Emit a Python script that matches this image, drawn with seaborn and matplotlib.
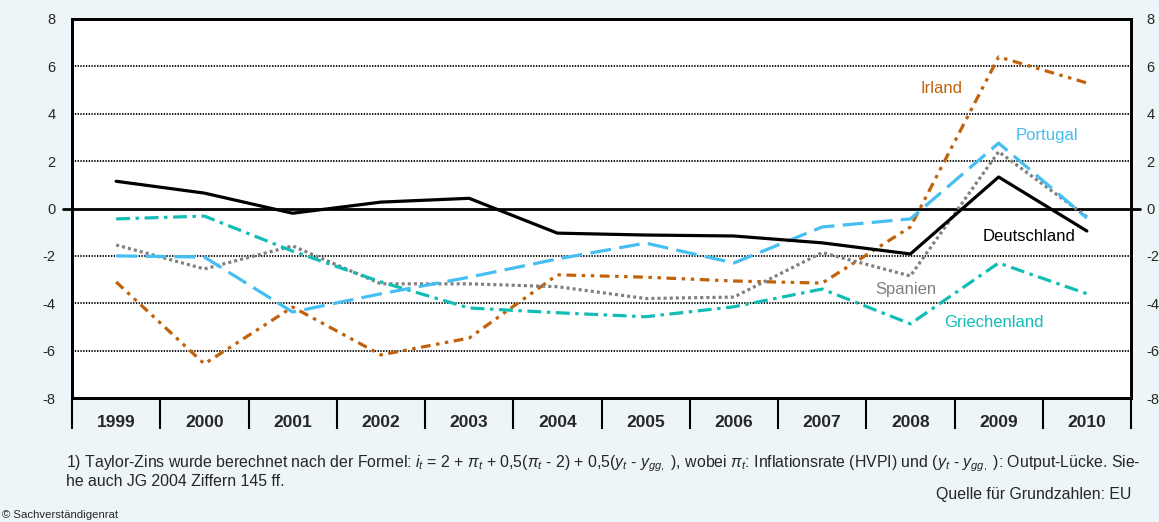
import matplotlib
matplotlib.use("Agg")
import matplotlib.pyplot as plt
import seaborn as sns
import numpy as np
import pandas as pd

years = ["1999", "2000", "2001", "2002", "2003", "2004", "2005", "2006", "2007", "2008", "2009", "2010"]
deutschland = [1.15, 0.65, -0.2, 0.27, 0.43, -1.04, -1.12, -1.16, -1.45, -1.92, 1.33, -0.95]
portugal = [-2.0, -2.05, -4.37, -3.6, -2.9, -2.13, -1.46, -2.3, -0.78, -0.44, 2.76, -0.4]
irland = [-3.1, -6.56, -4.16, -6.18, -5.47, -2.8, -2.9, -3.06, -3.15, -0.78, 6.4, 5.3]
spanien = [-1.54, -2.55, -1.58, -3.18, -3.18, -3.3, -3.8, -3.74, -1.86, -2.85, 2.4, -0.35]
griechenland = [-0.44, -0.32, -1.8, -3.1, -4.2, -4.4, -4.57, -4.15, -3.4, -4.87, -2.3, -3.6]
yticks = [-8, -6, -4, -2, 0, 2, 4, 6, 8]

sns.set_theme(style="white")
plt.rcParams['font.family'] = ['Liberation Sans', 'DejaVu Sans']
plt.rcParams['mathtext.fontset'] = 'custom'
plt.rcParams['mathtext.rm'] = 'Liberation Sans'
plt.rcParams['mathtext.it'] = 'Liberation Sans:italic'
plt.rcParams['lines.scale_dashes'] = False

BG = "#EDF5F9"
fig = plt.figure(figsize=(11.59, 5.22), dpi=100, facecolor=BG)
ax = fig.add_axes([72 / 1159, 1 - 398 / 522, (1131 - 72) / 1159, (398 - 19) / 522])
ax.set_facecolor("white")

x = np.arange(len(years))
series = [
    ("Irland", irland, "#C0620A", (0, (7, 4, 2.5, 4, 2.5, 4))),
    ("Spanien", spanien, "#808080", (0, (2.2, 2.2))),
    ("Griechenland", griechenland, "#12BDB5", (0, (10, 4, 2.5, 4))),
    ("Portugal", portugal, "#45BEF2", (0, (15, 6))),
    ("Deutschland", deutschland, "#000000", "-"),
]
for name, vals, col, ls in series:
    df = pd.DataFrame({"x": x, "y": vals})
    sns.lineplot(data=df, x="x", y="y", ax=ax, color=col, linestyle=ls, linewidth=2.3)

# grid lines
for yv in [-6, -4, -2, 2, 4, 6]:
    ax.axhline(yv, color="black", linestyle=(0, (1.0, 1.0)), linewidth=1.3, zorder=0.5)
ax.axhline(0, color="black", linewidth=2.0, zorder=1.5)
ax.plot([-0.6, -0.5], [0, 0], color="black", linewidth=2.0, clip_on=False)
ax.plot([11.5, 11.6], [0, 0], color="black", linewidth=2.0, clip_on=False)

ax.set_xlim(-0.5, 11.5)
ax.set_ylim(-8, 8)
ax.set_xlabel("")
ax.set_ylabel("")

ax.set_xticks(x)
ax.set_xticklabels(years, fontsize=12.5, fontweight="bold")
ax.set_xticks(np.arange(-0.5, 12, 1), minor=True)
ax.tick_params(axis="x", which="major", length=0, pad=12)
ax.tick_params(axis="x", which="minor", length=22, width=1.5, color="black", direction="out", bottom=True)

ax.set_yticks(yticks)
ax.set_yticklabels([str(v) for v in yticks], fontsize=10.5)
ax.tick_params(axis="y", which="both", length=0, pad=12, left=True, right=False, labelright=False)
ax2 = ax.twinx()
ax2.set_ylim(-8, 8)
ax2.set_yticks(yticks)
ax2.set_yticklabels([str(v) for v in yticks], fontsize=10.5)
ax2.tick_params(axis="y", length=0, pad=11)
ax2.grid(False)
ax.grid(False)

for a in (ax, ax2):
    for s in a.spines.values():
        s.set_color("black")
        s.set_linewidth(2.0)

# labels
ax.text(9.35, 5.05, "Irland", color="#C0620A", fontsize=12, ha="center", va="center")
ax.text(10.55, 3.07, "Portugal", color="#45BEF2", fontsize=12, ha="center", va="center")
ax.text(10.35, -1.2, "Deutschland", color="black", fontsize=12, ha="center", va="center")
ax.text(8.95, -3.4, "Spanien", color="#808080", fontsize=12, ha="center", va="center")
ax.text(9.95, -4.83, "Griechenland", color="#12BDB5", fontsize=12, ha="center", va="center")

foot1 = (r"1) Taylor-Zins wurde berechnet nach der Formel: $i_t$ = 2 + $\pi_t$ + 0,5($\pi_t$ - 2) + "
         r"0,5($y_t$ - $y_{gg,}$ ), wobei $\pi_t$: Inflationsrate (HVPI) und ($y_t$ - $y_{gg,}$ ): Output-Lücke. Sie-")
fig.text(66 / 1159, 1 - 464 / 522, foot1, fontsize=11.4, ha="left", va="center")
fig.text(66 / 1159, 1 - 481 / 522, "he auch JG 2004 Ziffern 145 ff.", fontsize=11.4, ha="left", va="center")
fig.text(1131 / 1159, 1 - 494 / 522, "Quelle für Grundzahlen: EU", fontsize=11.4, ha="right", va="center")
fig.text(2 / 1159, 1 - 515 / 522, "© Sachverständigenrat", fontsize=8.2, ha="left", va="center")

fig.savefig("out.png", dpi=100, facecolor=BG)
